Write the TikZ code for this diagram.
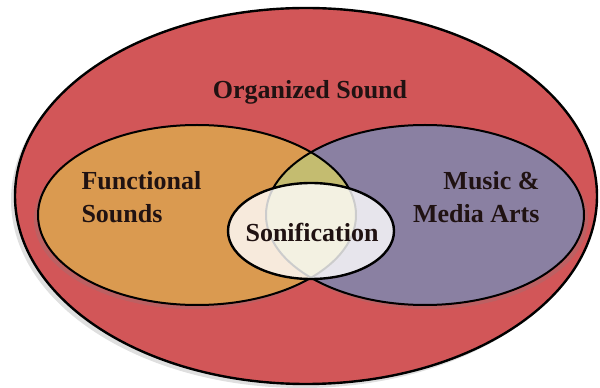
\documentclass[tikz,border=0pt]{standalone}
\usepackage{fontspec}
\setmainfont{Liberation Serif}
\usetikzlibrary{shadows}

\definecolor{soundred}{RGB}{210,86,88}
\definecolor{funcorange}{RGB}{218,154,80}
\definecolor{musicpurple}{RGB}{138,128,162}
\definecolor{lensolive}{RGB}{196,188,112}
\definecolor{labelink}{RGB}{32,18,18}

\tikzset{every picture/.style={line width=0.75pt}}
\tikzset{
  setline/.style={draw=black, line width=1.5pt},
  setlabel/.style={inner sep=0pt, text=labelink, font=\bfseries\fontsize{19.5}{25}\selectfont},
}

\begin{document}
\begin{tikzpicture}[x=0.75pt,y=0.75pt,yscale=-1,xscale=1]
    \useasboundingbox (0,0) rectangle (600,388);

    %Shape: Ellipse [outer set]
    \draw [setline, line width=1.8pt, fill=soundred, drop shadow={opacity=0.25, shadow xshift=-3pt, shadow yshift=-3pt}] (306,196) ellipse (291 and 188);
    %Shape: Ellipse [left set]
    \fill [funcorange, drop shadow={opacity=0.25, shadow xshift=-3pt, shadow yshift=-3pt}] (197,215) ellipse (159 and 90);
    %Shape: Ellipse [right set]
    \fill [musicpurple, drop shadow={opacity=0.25, shadow xshift=3pt, shadow yshift=-3pt}] (425,215) ellipse (159 and 90);
    %Shape: Lens [overlap]
    \begin{scope}
      \clip (197,215) ellipse (159 and 90);
      \fill [lensolive] (425,215) ellipse (159 and 90);
    \end{scope}
    %Outlines
    \draw [setline] (197,215) ellipse (159 and 90);
    \draw [setline] (425,215) ellipse (159 and 90);
    %Shape: Ellipse [sonification]
    \draw [setline, line width=1.8pt, fill=white, fill opacity=0.8] (311,231) ellipse (83 and 48);

    % Text Node
    \node [setlabel, anchor=base] (organized) at (310,99) {Organized Sound};
    % Text Node
    \node [setlabel, anchor=north west, align=left] (functional) at (81,171) {Functional\\Sounds};
    % Text Node
    \node [setlabel, anchor=north east, align=right] (music) at (540,171) {Music \&\\Media Arts};
    % Text Node
    \node [setlabel, anchor=base] (sonification) at (312,242) {Sonification};

\end{tikzpicture}
\end{document}
